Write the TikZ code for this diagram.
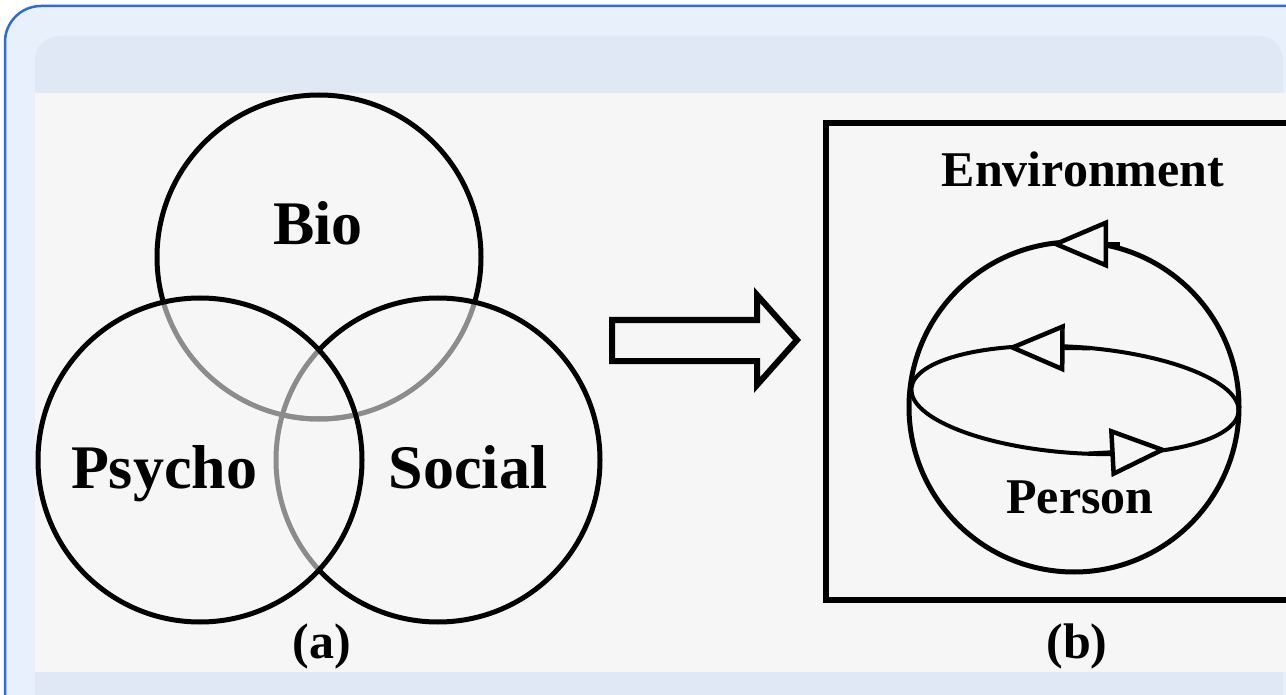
\documentclass[tikz,border=0pt]{standalone}
\usepackage{fontspec}
\setmainfont{Liberation Serif}
\usepackage{xcolor}
\usepackage{tikz}
\usetikzlibrary{arrows.meta, calc}
\definecolor{framebg}{HTML}{E8F0FC}
\definecolor{framerule}{HTML}{2B6BDB}
\definecolor{panelbg}{HTML}{E1E8F5}
\definecolor{figbg}{HTML}{F6F6F6}
\definecolor{overlap}{HTML}{8C8C8C}
\tikzstyle{venn} = [line width=5pt, draw=black]
\tikzstyle{faded} = [line width=5pt, draw=overlap]
\tikzstyle{biglabel} = [font=\fontsize{62}{70}\selectfont\bfseries, anchor=base, inner sep=0pt]
\tikzstyle{smalllabel} = [font=\fontsize{50}{58}\selectfont\bfseries, anchor=base, inner sep=0pt]
\tikzstyle{flow} = [line width=4.5pt, -{Triangle[length=58pt, width=48pt, fill=figbg]}]
\tikzstyle{hollow} = [line width=6pt, draw=black, fill=figbg, line join=miter]

\begin{document}
\begin{tikzpicture}[x=1pt, y=-1pt]
        \useasboundingbox (0,0) rectangle (1286,695);
        \clip (0,0) rectangle (1286,695);
        \fill[white] (0,0) rectangle (1286,695);
        \draw[line width=2.5pt, draw=framerule, fill=framebg, rounded corners=36pt] (5,6) rectangle (1340,760);
        \fill[panelbg, rounded corners=24pt] (35,36) rectangle (1283,760);
        \fill[figbg] (35,93) rectangle (1300,672);

        \coordinate (bio) at (319,257);
        \coordinate (psycho) at (200,460);
        \coordinate (social) at (438,460);

        \begin{scope}[even odd rule]
            \clip (0,0) rectangle (700,695) (psycho) circle[radius=162];
            \clip (0,0) rectangle (700,695) (social) circle[radius=162];
            \draw[venn] (bio) circle[radius=162];
        \end{scope}
        \begin{scope}
            \clip (psycho) circle[radius=162];
            \draw[faded] (bio) circle[radius=162];
        \end{scope}
        \begin{scope}
            \clip (social) circle[radius=162];
            \draw[faded] (bio) circle[radius=162];
        \end{scope}
        \begin{scope}[even odd rule]
            \clip (0,0) rectangle (700,695) (psycho) circle[radius=162];
            \draw[venn] (social) circle[radius=162];
        \end{scope}
        \begin{scope}
            \clip (psycho) circle[radius=162];
            \draw[faded] (social) circle[radius=162];
        \end{scope}
        \draw[venn] (psycho) circle[radius=162];

        \node (biotxt) [biglabel] at (318,245) {Bio};
        \node (psychotxt) [biglabel] at (164,488) {Psycho};
        \node (socialtxt) [biglabel] at (468,488) {Social};
        \node (atxt) [smalllabel] at (322,658) {(a)};

        \draw[hollow] (612,320) -- (757,320) -- (757,295) -- (797,340) -- (757,385) -- (757,361) -- (612,361) -- cycle;

        \draw[line width=5.5pt] (826,123) rectangle (1320,600);
        \node (envtxt) [smalllabel] at (1083,187) {Environment};

        \coordinate (person) at (1074,407);
        \draw[line width=5pt] (person) circle[radius=165];
        \begin{scope}[shift={(1075,400)}, rotate=-4]
            \draw[line width=4pt] (0,0) ellipse[x radius=164, y radius=53];
            \draw[flow] (274:164 and 53) -- (244:164 and 53);
            \draw[flow] (84:164 and 53) -- (54:164 and 53);
        \end{scope}
        \draw[flow] ($(person)+(46,-163)$) -- ($(person)+(-24,-163)$);
        \node (persontxt) [smalllabel] at (1080,513) {Person};
        \node (btxt) [smalllabel] at (1077,658) {(b)};
\end{tikzpicture}
\end{document}
